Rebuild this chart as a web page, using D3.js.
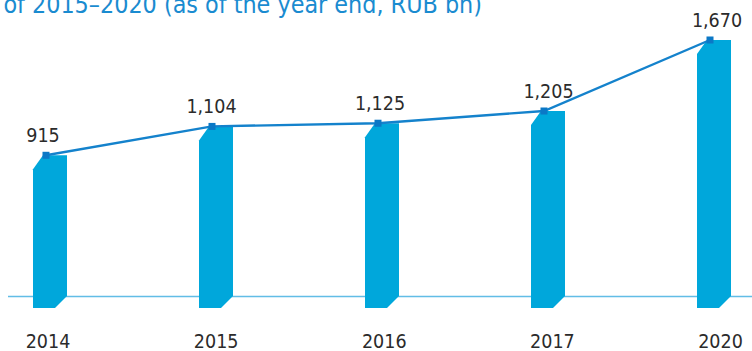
<!DOCTYPE html>
<html>
<head>
<meta charset="utf-8">
<script src="https://cdn.jsdelivr.net/npm/d3@7"></script>
<style>
  html, body { margin: 0; padding: 0; background: #fff; }
  svg { display: block; }
</style>
</head>
<body>
<svg id="chart" width="752" height="351"></svg>
<script>
// Loan portfolio by year (RUB bn)
const years = ["2014", "2015", "2016", "2017", "2020"];
const values = [915, 1104, 1125, 1205, 1670];
const valueLabels = ["915", "1,104", "1,125", "1,205", "1,670"];
const titleLead = "of ";
const titleRest = "2015\u20132020 (as of the year end, RUB bn)";

const W = 752, H = 351;
const svg = d3.select("#chart");
const font = "'DejaVu Sans Condensed', 'DejaVu Sans', sans-serif";

const x = d3.scalePoint().domain(years).range([50, 714]);       // bars
const xLab = d3.scalePoint().domain(years).range([47.5, 720]);  // year labels
const xVal = d3.scalePoint().domain(years).range([43, 717]);    // value labels
const y = d3.scaleLinear().domain([0, 1670]).range([295, 40]);

const barW = 34;
const cutTopW = 10, cutTopH = 14;   // bevel at the top-left corner
const cutBotW = 12, cutBotH = 12;   // bevel at the bottom-right corner
const barBottom = 308;

// title, running off the top-left edge
const title = svg.append("text")
  .attr("y", 12.5)
  .attr("fill", "#1a8bd0")
  .style("font-family", font)
  .style("font-size", "24px");
const lead = title.append("tspan").text(titleLead);
const rest = title.append("tspan").text(titleRest);
const restW = rest.node().getComputedTextLength();
const fs = 24 * 450 / restW;
title.style("font-size", fs + "px");
const leadW = lead.node().getComputedTextLength();
title.attr("x", 32 - leadW);

// baseline
svg.append("line")
  .attr("x1", 8).attr("x2", W)
  .attr("y1", y(0) + 1.5).attr("y2", y(0) + 1.5)
  .attr("stroke", "#62bde6").attr("stroke-width", 1.6);

// bevelled bars
const data = years.map((yr, i) => ({ yr, v: values[i], label: valueLabels[i] }));
svg.selectAll("path.bar").data(data).enter().append("path")
  .attr("class", "bar")
  .attr("fill", "#00a7db")
  .attr("d", d => {
    const x0 = x(d.yr) - barW / 2, x1 = x(d.yr) + barW / 2, t = y(d.v);
    return `M${x0},${t + cutTopH} L${x0 + cutTopW},${t} L${x1},${t} ` +
           `L${x1},${barBottom - cutBotH} L${x1 - cutBotW},${barBottom} L${x0},${barBottom} Z`;
  });

// trend line through the bar tops
const mOff = -4;
const line = d3.line().x(d => x(d.yr) + mOff).y(d => y(d.v));
svg.append("path").datum(data)
  .attr("d", line)
  .attr("fill", "none")
  .attr("stroke", "#1482cc")
  .attr("stroke-width", 2.4);

svg.selectAll("rect.marker").data(data).enter().append("rect")
  .attr("class", "marker")
  .attr("x", d => x(d.yr) + mOff - 3.5)
  .attr("y", d => y(d.v) - 3.5)
  .attr("width", 7).attr("height", 7)
  .attr("fill", "#0b78c6");

// value labels
svg.selectAll("text.val").data(data).enter().append("text")
  .attr("class", "val")
  .attr("x", d => xVal(d.yr))
  .attr("y", d => y(d.v) - 13.5)
  .attr("text-anchor", "middle")
  .attr("fill", "#2b2b2b")
  .style("font-family", font)
  .style("font-size", "19.5px")
  .text(d => d.label);

// category axis labels
const xAxis = d3.axisBottom(xLab).tickSize(0).tickPadding(0);
const ax = svg.append("g").attr("transform", "translate(0,347.5)").call(xAxis);
ax.select(".domain").remove();
ax.selectAll("text")
  .attr("y", 0)
  .attr("dy", "0")
  .attr("fill", "#2b2b2b")
  .style("font-family", font)
  .style("font-size", "19.5px");
</script>
</body>
</html>
